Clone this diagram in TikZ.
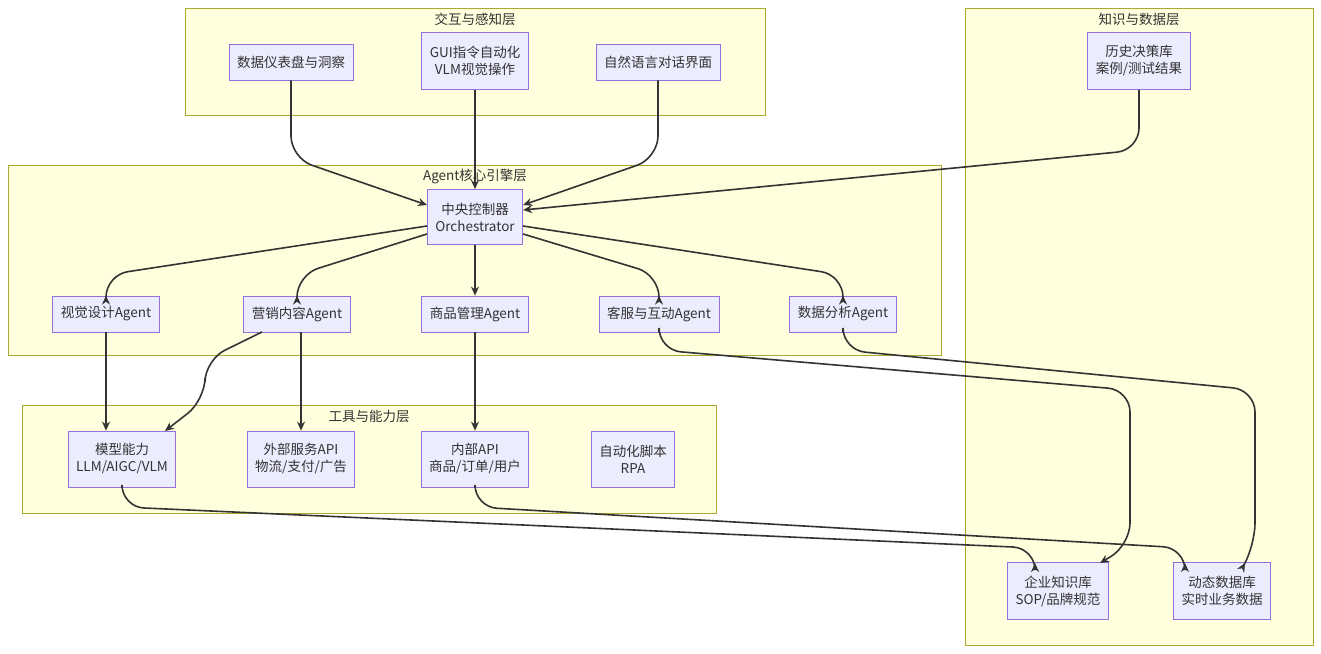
\documentclass[tikz,border=0pt]{standalone}
\usepackage{fontspec}
\setmainfont{Noto Sans CJK SC}
\usetikzlibrary{arrows.meta}
\definecolor{cf}{HTML}{FFFFDE}\definecolor{cs}{HTML}{AAAA33}
\definecolor{nf}{HTML}{ECECFF}\definecolor{ns}{HTML}{9370DB}
\definecolor{ec}{HTML}{333333}
\begin{document}
\begin{tikzpicture}[x=1pt,y=-1pt,font=\fontsize{13.5}{17}\selectfont,
 clu/.style={draw=cs,fill=cf,line width=0.8pt},
 ct/.style={text=ec,anchor=center},
 nd/.style={draw=ns,fill=nf,line width=0.8pt,align=center,inner xsep=8pt,minimum height=36pt,text=ec},
 ed/.style={draw=ec,line width=1.6pt,rounded corners=22pt,-{Stealth[length=9pt,width=8pt]}}]
\useasboundingbox (0,0) rectangle (1321,653);
\fill[white] (0,0) rectangle (1321,653);
\draw[clu] (185,8) rectangle (765,115); \node[ct] at (475,19) {交互与感知层};
\draw[clu] (965,8) rectangle (1313,645); \node[ct] at (1139,19) {知识与数据层};
\draw[clu] (8,165) rectangle (941,355); \node[ct] at (475,176) {Agent核心引擎层};
\draw[clu] (22,405) rectangle (716,513); \node[ct] at (369,416) {工具与能力层};
\node[nd] (dash) at (291,62) {数据仪表盘与洞察};
\node[nd,minimum height=57pt] (gui) at (475,61) {GUI指令自动化\\VLM视觉操作};
\node[nd] (nl) at (658,62) {自然语言对话界面};
\node[nd,minimum height=57pt] (hist) at (1139,61) {历史决策库\\案例/测试结果};
\node[nd,minimum height=55pt] (ctrl) at (475,217) {中央控制器\\Orchestrator};
\node[nd] (vis) at (106,314) {视觉设计Agent};
\node[nd] (mkt) at (297,314) {营销内容Agent};
\node[nd] (prod) at (475,314) {商品管理Agent};
\node[nd] (cs) at (659,314) {客服与互动Agent};
\node[nd] (da) at (843,314) {数据分析Agent};
\node[nd,minimum height=56pt] (model) at (122,459) {模型能力\\LLM/AIGC/VLM};
\node[nd,minimum height=56pt] (ext) at (301,459) {外部服务API\\物流/支付/广告};
\node[nd,minimum height=56pt] (int) at (475,459) {内部API\\商品/订单/用户};
\node[nd,minimum height=56pt] (rpa) at (633,459) {自动化脚本\\RPA};
\node[nd,minimum height=57pt] (kb) at (1058,591) {企业知识库\\SOP/品牌规范};
\node[nd,minimum height=57pt] (db) at (1222,591) {动态数据库\\实时业务数据};
\draw[ed] (dash.south) -- (291,158) -- (ctrl.west|-0,205);
\draw[ed] (gui) -- (ctrl);
\draw[ed] (nl.south) -- (658,158) -- (ctrl.east|-0,205);
\draw[ed] (hist.south) -- (1139,150) -- (ctrl.east|-0,210);
\draw[ed] (ctrl.west|-0,226) -- (106,275) -- (vis.north);
\draw[ed] (ctrl.west|-0,234) -- (297,275) -- (mkt.north);
\draw[ed] (ctrl) -- (prod);
\draw[ed] (ctrl.east|-0,234) -- (659,275) -- (cs.north);
\draw[ed] (ctrl.east|-0,226) -- (843,275) -- (da.north);
\draw[ed] (vis) -- (vis|-model.north);
\draw[ed] (262,332) -- (205,360) -- (205,400) -- (165,431);
\draw[ed] (301,332) -- (ext.north);
\draw[ed] (prod) -- (int);
\draw[ed] (cs.south) -- (659,350) -- (1130,390) -- (1130,545) -- (1100,563);
\draw[ed] (da.south) -- (843,350) -- (1255,390) -- (1255,545) -- (1245,563);
\draw[ed] (model.south) -- (122,507) -- (1035,548) -- (1035,563);
\draw[ed] (int.south) -- (475,507) -- (1185,548) -- (1185,563);
\end{tikzpicture}
\end{document}
